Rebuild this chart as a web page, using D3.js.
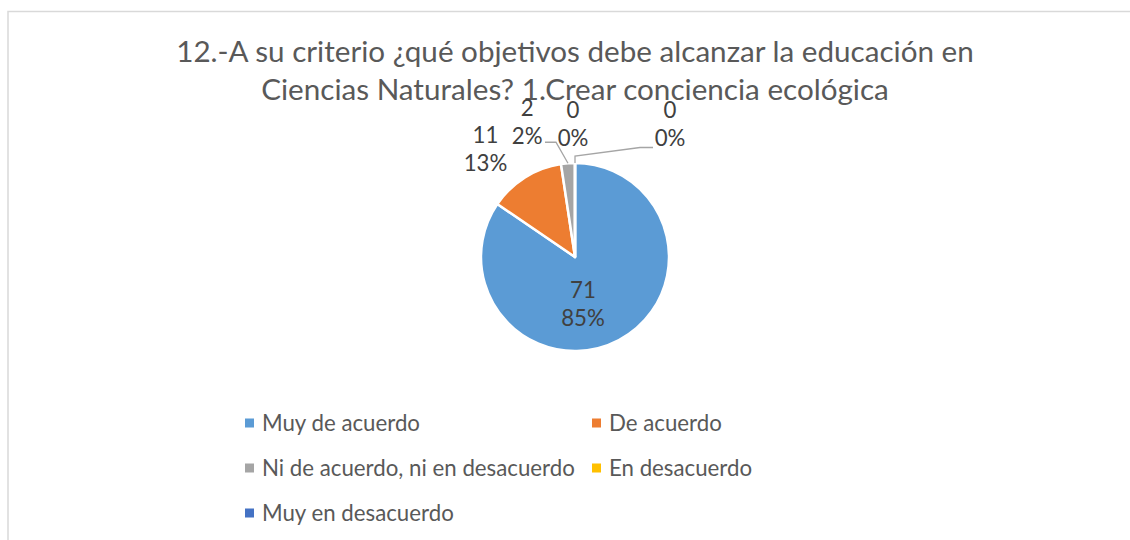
<!DOCTYPE html>
<html>
<head>
<meta charset="utf-8">
<script src="https://cdn.jsdelivr.net/npm/d3@7"></script>
<style>
  body { margin: 0; background: #fff; }
  svg { display: block; font-family: Lato, "Open Sans", sans-serif; }
</style>
</head>
<body>
<svg id="chart" width="1130" height="540"></svg>
<script>
// chart data
var titleLines = ["12.-A su criterio ¿qué objetivos debe alcanzar la educación en",
                  "Ciencias Naturales? 1.Crear conciencia ecológica"];
var categories = ["Muy de acuerdo", "De acuerdo", "Ni de acuerdo, ni en desacuerdo",
                  "En desacuerdo", "Muy en desacuerdo"];
var values = [71, 11, 2, 0, 0];
var colors = ["#5B9BD5", "#ED7D31", "#A5A5A5", "#FFC000", "#4472C4"];

var svg = d3.select("#chart");
var cx = 575, cy = 257, r = 94;

// size a font so that a sample string gets the width seen in the original
function fitSize(sample, target){
  var t = svg.append("text").attr("font-size", 20).text(sample);
  var w = t.node().getComputedTextLength();
  t.remove();
  return 20 * target / w;
}
var titleSize = fitSize(titleLines[0], 798);
var legendSize = fitSize(categories[2], 313);
var labelSize = legendSize;

// outer frame (cut off at right and bottom, like the original)
svg.append("rect")
  .attr("x", 8).attr("y", 11.5)
  .attr("width", 1200).attr("height", 600)
  .attr("fill", "none").attr("stroke", "#d9d9d9").attr("stroke-width", 1.5);

// title
svg.append("g").selectAll("text")
  .data(titleLines)
  .enter().append("text")
  .attr("x", cx)
  .attr("y", function(d, i){ return 62 + i * 38; })
  .attr("text-anchor", "middle")
  .attr("font-size", titleSize)
  .attr("fill", "#595959")
  .text(function(d){ return d; });

var total = d3.sum(values);
var pie = d3.pie().sort(null).value(function(d){ return d; });
var arcs = pie(values);
var arc = d3.arc().innerRadius(0).outerRadius(r);

var g = svg.append("g").attr("transform", "translate(" + cx + "," + cy + ")");

g.selectAll("path.slice")
  .data(arcs)
  .enter().append("path")
  .attr("class", "slice")
  .attr("d", arc)
  .attr("fill", function(d, i){ return colors[i]; })
  .attr("stroke", "#fff")
  .attr("stroke-width", 2.5)
  .attr("stroke-linejoin", "round");

// label placement relative to an outer arc, nudged like the original
var labelArc = d3.arc().innerRadius(r * 1.25).outerRadius(r * 1.25);
var nudges = [[-14, 5.5], [-27, -8], [-39, -18], [-2, -15], [95, -15]];

function labelPos(d, i){
  var c = i === 0 ? arc.centroid(d) : labelArc.centroid(d);
  return [c[0] + nudges[i][0], c[1] + nudges[i][1]];
}

var pct = d3.format(".0%");
var lbl = g.selectAll("g.lbl")
  .data(arcs)
  .enter().append("g")
  .attr("class", "lbl")
  .attr("transform", function(d, i){ return "translate(" + labelPos(d, i) + ")"; });

lbl.append("text")
  .attr("text-anchor", "middle")
  .attr("y", -14)
  .attr("dy", "0.35em")
  .attr("font-size", labelSize)
  .attr("fill", "#404040")
  .text(function(d){ return d.data; });

lbl.append("text")
  .attr("text-anchor", "middle")
  .attr("y", 14)
  .attr("dy", "0.35em")
  .attr("font-size", labelSize)
  .attr("fill", "#404040")
  .text(function(d){ return pct(d.data / total); });

// leader lines for the thin slices
function leader(d, i){
  var a = (d.startAngle + d.endAngle) / 2;
  var p0 = [Math.sin(a) * r, -Math.cos(a) * r];
  var lp = labelPos(d, i);
  if (i === 2) {
    return [p0, [p0[0] - 12, p0[1] - 21], [p0[0] - 23, p0[1] - 21]];
  }
  return [p0, [p0[0], p0[1] - 7], [lp[0] - 30, lp[1] + 23], [lp[0] - 17, lp[1] + 23]];
}
g.selectAll("path.leader")
  .data(arcs.filter(function(d, i){ return i === 2 || i === 4; }))
  .enter().append("path")
  .attr("class", "leader")
  .attr("d", function(d){ return d3.line()(leader(d, d.index)); })
  .attr("fill", "none")
  .attr("stroke", "#A5A5A5")
  .attr("stroke-width", 1.3);

// legend
var legend = svg.append("g").selectAll("g")
  .data(categories)
  .enter().append("g")
  .attr("transform", function(d, i){
    return "translate(" + (i % 2 ? 592 : 245) + "," + (423 + Math.floor(i / 2) * 45) + ")";
  });

legend.append("rect")
  .attr("x", 0).attr("y", -4.5)
  .attr("width", 9).attr("height", 9)
  .attr("fill", function(d, i){ return colors[i]; });

legend.append("text")
  .attr("x", 17).attr("y", 0)
  .attr("dy", "0.35em")
  .attr("font-size", legendSize)
  .attr("fill", "#595959")
  .text(function(d){ return d; });
</script>
</body>
</html>
